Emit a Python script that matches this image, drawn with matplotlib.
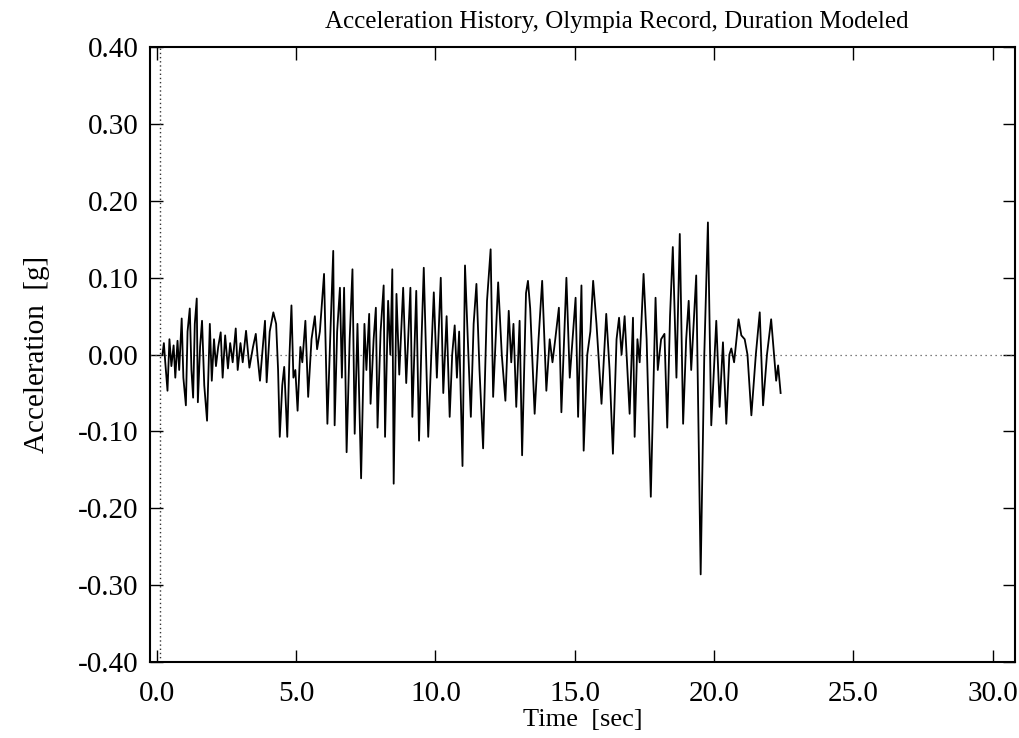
import matplotlib
matplotlib.use('Agg')
import matplotlib.pyplot as plt
from matplotlib.ticker import FormatStrFormatter

plt.rcParams['font.family'] = ['Liberation Serif', 'DejaVu Serif']

# turning points of the record
time_s = [
    0.20, 0.25, 0.30, 0.38, 0.45, 0.52, 0.60, 0.66, 0.74, 0.80,
    0.89, 0.95, 1.04, 1.10, 1.18, 1.24, 1.30, 1.36, 1.43, 1.47,
    1.55, 1.62, 1.70, 1.80, 1.90, 1.97, 2.05, 2.12, 2.20, 2.29,
    2.36, 2.45, 2.55, 2.63, 2.72, 2.83, 2.90, 3.00, 3.08, 3.20,
    3.32, 3.45, 3.55, 3.62, 3.70, 3.80, 3.88, 3.94, 4.05, 4.18,
    4.28, 4.35, 4.41, 4.50, 4.57, 4.68, 4.76, 4.83, 4.90, 4.97,
    5.05, 5.15, 5.22, 5.33, 5.43, 5.55, 5.67, 5.75, 5.85, 6.00,
    6.12, 6.22, 6.33, 6.38, 6.47, 6.57, 6.64, 6.72, 6.81, 6.92,
    7.02, 7.10, 7.20, 7.33, 7.45, 7.52, 7.62, 7.67, 7.78, 7.86,
    7.92, 8.03, 8.14, 8.19, 8.30, 8.38, 8.45, 8.50, 8.60, 8.70,
    8.84, 8.95, 9.10, 9.17, 9.31, 9.41, 9.50, 9.58, 9.74, 9.85,
    9.94, 10.05, 10.19, 10.28, 10.40, 10.51, 10.60, 10.69, 10.77, 10.85,
    10.97, 11.06, 11.16, 11.27, 11.37, 11.47, 11.58, 11.71, 11.85, 11.98,
    12.07, 12.25, 12.38, 12.51, 12.63, 12.72, 12.80, 12.90, 13.02, 13.11,
    13.25, 13.32, 13.40, 13.56, 13.70, 13.83, 13.98, 14.10, 14.20, 14.30,
    14.43, 14.52, 14.70, 14.82, 15.03, 15.12, 15.24, 15.32, 15.45, 15.56,
    15.66, 15.78, 15.96, 16.13, 16.25, 16.37, 16.50, 16.59, 16.68, 16.79,
    16.97, 17.09, 17.15, 17.25, 17.33, 17.47, 17.58, 17.73, 17.90, 17.98,
    18.10, 18.22, 18.32, 18.42, 18.52, 18.65, 18.77, 18.89, 19.00, 19.09,
    19.18, 19.36, 19.52, 19.65, 19.78, 19.90, 20.08, 20.20, 20.32, 20.44,
    20.55, 20.62, 20.72, 20.88, 20.98, 21.10, 21.20, 21.34, 21.50, 21.64,
    21.76, 21.90, 22.05, 22.23, 22.30, 22.39,
]
accel_g = [
    0.000, 0.015, -0.010, -0.047, 0.020, -0.015, 0.012, -0.030, 0.018, -0.020,
    0.047, -0.030, -0.066, 0.030, 0.060, -0.020, -0.056, 0.040, 0.073, -0.062,
    0.010, 0.044, -0.040, -0.086, 0.040, -0.034, 0.020, -0.015, 0.010, 0.029,
    -0.030, 0.025, -0.018, 0.015, -0.010, 0.034, -0.020, 0.015, -0.010, 0.031,
    -0.017, 0.010, 0.027, -0.005, -0.034, 0.010, 0.044, -0.036, 0.030, 0.055,
    0.040, -0.020, -0.107, -0.040, -0.016, -0.107, 0.000, 0.064, -0.030, -0.020,
    -0.073, 0.010, -0.010, 0.044, -0.055, 0.020, 0.050, 0.007, 0.030, 0.105,
    -0.090, 0.020, 0.135, -0.092, 0.030, 0.087, -0.030, 0.087, -0.127, 0.020,
    0.111, -0.103, 0.040, -0.161, 0.040, -0.020, 0.053, -0.064, 0.020, 0.061,
    -0.095, 0.030, 0.090, -0.107, 0.070, 0.000, 0.111, -0.168, 0.079, -0.026,
    0.087, -0.037, 0.087, -0.081, 0.083, -0.112, 0.020, 0.113, -0.107, 0.000,
    0.081, -0.030, 0.100, -0.050, 0.050, -0.081, 0.000, 0.038, -0.030, 0.030,
    -0.145, 0.116, 0.020, -0.081, 0.040, 0.092, -0.020, -0.122, 0.070, 0.137,
    -0.055, 0.094, 0.000, -0.060, 0.057, -0.010, 0.040, -0.068, 0.044, -0.131,
    0.080, 0.096, 0.060, -0.077, 0.020, 0.096, -0.047, 0.020, -0.010, 0.020,
    0.061, -0.075, 0.100, -0.030, 0.074, -0.081, 0.090, -0.125, 0.000, 0.030,
    0.096, 0.040, -0.064, 0.053, -0.020, -0.129, 0.020, 0.048, 0.000, 0.050,
    -0.077, 0.048, -0.107, 0.020, -0.010, 0.105, 0.020, -0.185, 0.074, -0.020,
    0.020, 0.027, -0.095, 0.050, 0.140, -0.030, 0.157, -0.090, 0.020, 0.070,
    -0.020, 0.103, -0.286, 0.000, 0.172, -0.092, 0.044, -0.068, 0.016, -0.090,
    0.000, 0.008, -0.010, 0.046, 0.025, 0.020, 0.000, -0.079, 0.000, 0.055,
    -0.066, 0.000, 0.046, -0.034, -0.014, -0.050,
]

x_ticks = [0, 5, 10, 15, 20, 25, 30]
y_ticks = [-0.4, -0.3, -0.2, -0.1, 0.0, 0.1, 0.2, 0.3, 0.4]

fig = plt.figure(figsize=(10.2, 7.38), dpi=100)
ax = fig.add_axes([0.147, 0.103, 0.848, 0.833])

# zero axes, dotted like gnuplot
ax.axhline(0, color='#555555', linestyle=(0, (1, 3)), linewidth=0.9)
ax.axvline(0.1, color='#333333', linestyle=(0, (1, 2)), linewidth=1.0)

ax.plot(time_s, accel_g, color='black', linewidth=1.3)

ax.set_xlim(-0.25, 30.8)
ax.set_ylim(-0.4, 0.4)
ax.set_xticks(x_ticks)
ax.set_yticks(y_ticks)
ax.xaxis.set_major_formatter(FormatStrFormatter('%.1f'))
ax.yaxis.set_major_formatter(FormatStrFormatter('%.2f'))
ax.tick_params(direction='in', length=9, width=1.0, top=True, right=True,
               labelsize=21)
ax.tick_params(axis='x', pad=14)
ax.tick_params(axis='y', pad=8)
for s in ax.spines.values():
    s.set_linewidth(1.5)

ax.set_xlabel('Time  [sec]', fontsize=19, labelpad=1)
ax.set_ylabel('Acceleration  [g]', fontsize=21, labelpad=20)
ax.set_title('Acceleration History, Olympia Record, Duration Modeled',
             fontsize=18, pad=14, x=0.54)

fig.savefig('out.png', dpi=100)
